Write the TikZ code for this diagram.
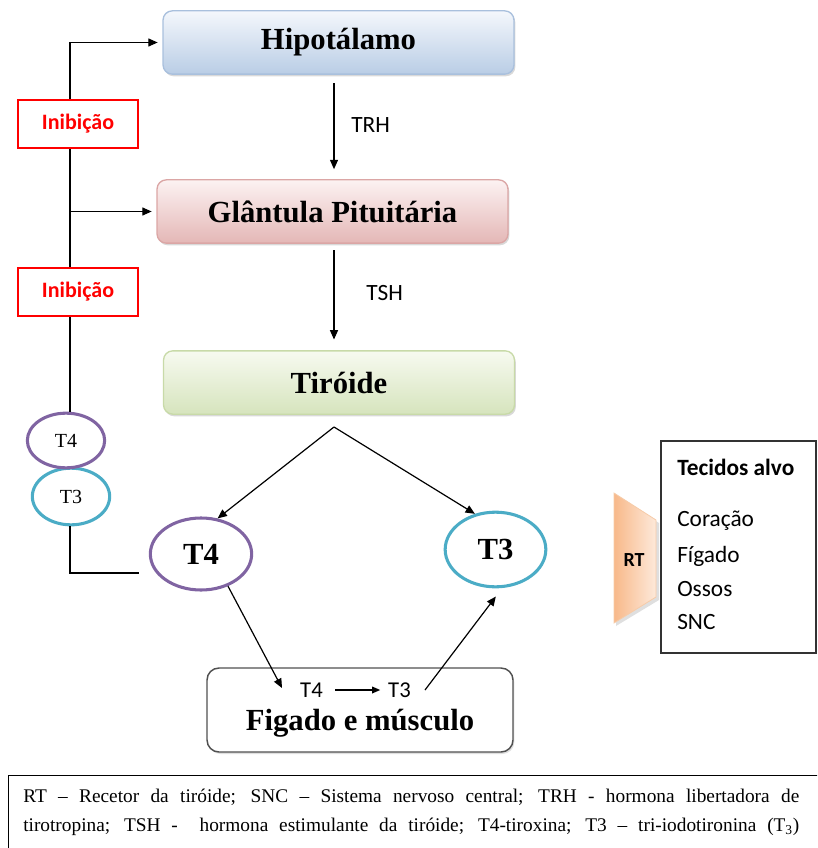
\documentclass[tikz,border=0pt]{standalone}
\usepackage{fontspec}
\setmainfont{Liberation Serif}
\newfontfamily\calfont{Carlito}
\usetikzlibrary{arrows.meta,shadows,shapes.geometric,calc}
\definecolor{hypTop}{HTML}{F4F7FC}
\definecolor{hypBot}{HTML}{B9CDE5}
\definecolor{hypBd}{HTML}{A9C0DD}
\definecolor{pitTop}{HTML}{FCF2F2}
\definecolor{pitBot}{HTML}{E4B7B6}
\definecolor{pitBd}{HTML}{DBA6A5}
\definecolor{tirTop}{HTML}{F7FAF0}
\definecolor{tirBot}{HTML}{D6E4BD}
\definecolor{tirBd}{HTML}{C8DAA8}
\definecolor{purp}{HTML}{8064A2}
\definecolor{cyanb}{HTML}{4BACC6}
\definecolor{rtL}{HTML}{F8B98A}
\definecolor{rtR}{HTML}{FDE9DA}
\definecolor{rtBd}{HTML}{F6CBA8}
\definecolor{figBd}{HTML}{505050}
\begin{document}
\begin{tikzpicture}[x=0.75pt,y=-0.75pt,
  arr/.style={-{Triangle[length=7pt,width=6pt]}, line width=0.9pt, black},
  arrs/.style={-{Triangle[length=6pt,width=5pt]}, line width=0.9pt, black},
  ln/.style={line width=0.9pt, black},
  titlebox/.style={rectangle, rounded corners=7pt, minimum width=263.25pt, minimum height=47.5pt,
    line width=1pt, drop shadow={opacity=0.3, shadow xshift=1pt, shadow yshift=-1.6pt}},
  titletxt/.style={font=\fontsize{23}{27}\selectfont\bfseries},
  inib/.style={rectangle, draw=red, line width=2pt, fill=white, minimum width=90pt, minimum height=36pt,
    text=red, font=\calfont\fontsize{16.5}{19}\selectfont\bfseries},
  bigell/.style={ellipse, line width=2.3pt, inner sep=0pt, fill=white, font=\fontsize{23}{27}\selectfont\bfseries},
  smell/.style={ellipse, line width=2.3pt, inner sep=0pt, fill=white, font=\fontsize{15}{18}\selectfont},
  lbl/.style={font=\calfont\fontsize{17.5}{20}\selectfont, anchor=west, inner sep=0pt},
  tec/.style={font=\calfont\fontsize{17.5}{20}\selectfont, anchor=west, inner sep=0pt},
]
\useasboundingbox (0,0) rectangle (817,848);
\clip (0,0) rectangle (817,848);

% main boxes
\node[titlebox, draw=hypBd, top color=hypTop, bottom color=hypBot] (hyp) at (338.5,42.5) {};
\node[titletxt] at (hyp) {Hipotálamo};
\node[titlebox, draw=pitBd, top color=pitTop, bottom color=pitBot] (glan) at (332.5,211.5) {};
\node[titletxt] at (glan) {Glântula Pituitária};
\node[titlebox, draw=tirBd, top color=tirTop, bottom color=tirBot] (tir) at (339,382.5) {};
\node[titletxt] at (tir) {Tiróide};

\coordinate (axis) at (334,0);
\draw[arr, shorten <=6.5pt, shorten >=7.5pt] (hyp.south -| axis) -- (glan.north -| axis);
\node[lbl] (trh) at (351,125) {TRH};
\draw[arr, shorten <=5pt, shorten >=8pt] (glan.south -| axis) -- (tir.north -| axis);
\node[lbl] (tsh) at (366,293) {TSH};

% feedback column
\coordinate (fb) at (70,0);
\node[inib] (inib1) at (78,124) {Inibição};
\node[inib] (inib2) at (78,292) {Inibição};
\node[smell, draw=cyanb, minimum width=58pt, minimum height=42.5pt] (st3) at (71,496.5) {T3};
\node[smell, draw=purp, minimum width=58pt, minimum height=41pt] (st4) at (66,440.5) {T4};

\draw[arr, shorten >=3.5pt] (fb |- inib1.north) -- (fb |- hyp.west) -- (hyp.west);
\draw[ln] (fb |- inib1.south) -- (fb |- inib2.north);
\draw[arr, shorten >=3.5pt] (fb |- glan.west) -- (glan.west);
\draw[ln] (fb |- inib2.south) -- (fb |- st4.north);

% T4 / T3 big
\node[bigell, draw=purp, minimum width=76pt, minimum height=54pt] (T4) at (201,554) {T4};
\node[bigell, draw=cyanb, minimum width=75.5pt, minimum height=56pt] (T3) at (495.5,549.5) {T3};

\coordinate (corner) at (139,573);
\draw[ln] (fb |- st3.south) -- (fb |- corner) -- (corner);

\coordinate (apex) at (334,427);
\draw[arr] (apex) -- (T4.65);
\draw[arr] (apex) -- (T3.120);

% liver & muscle
\node[rectangle, draw=figBd, line width=1.1pt, rounded corners=9pt, fill=white,
  minimum width=229.5pt, minimum height=63pt,
  drop shadow={opacity=0.25, shadow xshift=1pt, shadow yshift=-1.5pt}] (fig) at (360,710) {};
\node[font=\calfont\fontsize{17}{20}\selectfont] (t4in) at (311.5,690) {T4};
\node[font=\calfont\fontsize{17}{20}\selectfont] (t3in) at (399.5,690) {T3};
\draw[arrs, shorten <=6pt, shorten >=2.5pt] (t4in) -- (t3in);
\node[titletxt] (figt) at (360,723) {Figado e músculo};
\coordinate (t4tip) at (282,688);
\coordinate (t3start) at (425,690);
\draw[arr] (T4.-50) -- (t4tip);
\draw[arr, shorten >=8pt] (t3start) -- (T3.-80);

% RT receptor
\fill[gray, opacity=0.25] (616,496) -- (659,523) -- (659,600) -- (616,626) -- cycle;
\shade[left color=rtL, right color=rtR, draw=rtBd, line width=0.6pt]
  (614,493) -- (656,520) -- (656,597) -- (614,623) -- cycle;
\node[font=\calfont\fontsize{15}{18}\selectfont\bfseries] (rt) at (634,560) {RT};

% target tissues
\node[rectangle, draw=black!80, line width=1.1pt, minimum width=116pt, minimum height=159pt] (tecbox) at (738.5,547) {};
\node[tec, font=\calfont\fontsize{17.5}{20}\selectfont\bfseries] (tt) at (677,467) {Tecidos alvo};
\node[tec] (c1) at (677,521) {Coração};
\node[tec] (c2) at (677,556) {Fígado};
\node[tec] (c3) at (677,589) {Ossos};
\node[tec] (c4) at (677,622) {SNC};

% legend
\node[rectangle, draw=black, line width=1.1pt, anchor=north west, minimum width=620pt, minimum height=80pt] (leg) at (8,775) {};
\node[anchor=west, inner sep=0pt, font=\fontsize{14.5}{17}\selectfont] (l1) at (23,797)
  {\makebox[582pt][s]{RT – Recetor da tiróide; SNC – Sistema nervoso central; TRH - hormona libertadora de}};
\node[anchor=west, inner sep=0pt, font=\fontsize{14.5}{17}\selectfont] (l2) at (23,827)
  {\makebox[582pt][s]{tirotropina; TSH -\ \ hormona estimulante da tiróide; T4-tiroxina; T3 – tri-iodotironina (T\textsubscript{3})}};
\end{tikzpicture}
\end{document}
